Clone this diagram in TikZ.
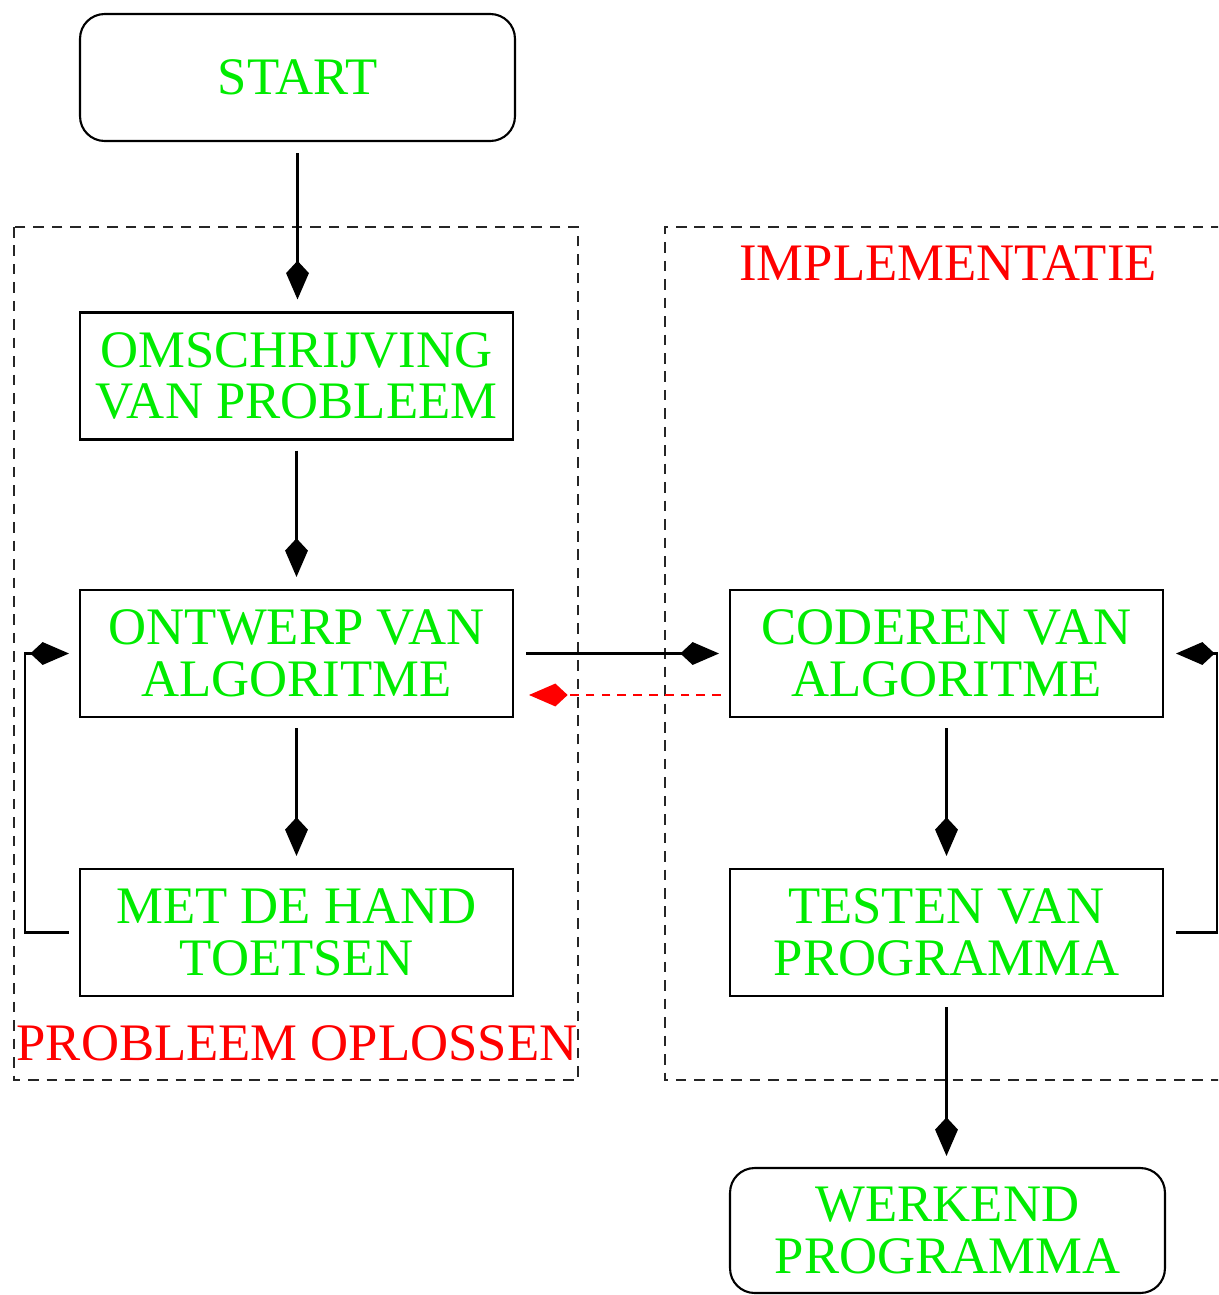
\documentclass[tikz,border=0pt]{standalone}
\usepackage{fontspec}
\setmainfont{Liberation Serif}
\usetikzlibrary{arrows.meta}
\definecolor{lgreen}{RGB}{0,235,0}
\definecolor{dred}{RGB}{255,0,0}
\begin{document}
\begin{tikzpicture}[x=0.02cm,y=-0.02cm,
  box/.style={draw, line width=1.2pt, minimum width=8.66cm, minimum height=2.54cm,
    inner sep=0pt, align=center, text=lgreen, font=\fontsize{30}{29.5}\selectfont},
  term/.style={box, rounded corners=14pt, minimum width=8.7cm},
  tipk/.tip={Kite[length=22pt,width=13pt,inset=7pt]},
  arr/.style={line width=1.2pt, -tipk},
  grp/.style={dash pattern=on 6pt off 4.5pt, line width=1.1pt, draw=black!85},
  lbl/.style={text=dred, inner sep=0pt, font=\fontsize{30}{29.5}\selectfont}]
\useasboundingbox (0,0) rectangle (1218,1295);
\clip (0,0) rectangle (1218,1295);

% group frames
\draw[grp] (14,227) rectangle (578,1080);
\draw[grp] (1240,227) -- (665,227) -- (665,1080) -- (1240,1080);
\node[lbl] (impl) at (948,263) {IMPLEMENTATIE};
\node[lbl] (opl) at (297,1043) {PROBLEEM OPLOSSEN};

% nodes
\node[term] (start) at (297.5,77.5) {START};
\node[box] (omschr) at (296.5,376) {OMSCHRIJVING\\VAN PROBLEEM};
\node[box] (ontwerp) at (296.5,653.5) {ONTWERP VAN\\ALGORITME};
\node[box] (met) at (296.5,932.5) {MET DE HAND\\TOETSEN};
\node[box] (coderen) at (946.5,653.5) {CODEREN VAN\\ALGORITME};
\node[box] (testen) at (946.5,932.5) {TESTEN VAN\\PROGRAMMA};
\node[term, minimum height=2.5cm] (werkend) at (947.5,1230.5) {WERKEND\\PROGRAMMA};

% connectors
\draw[arr, shorten <=0.22cm, shorten >=0.24cm] (start.south) -- (start.south |- omschr.north);
\draw[arr, shorten <=0.2cm, shorten >=0.24cm] (omschr.south) -- (ontwerp.north);
\draw[arr, shorten <=0.2cm, shorten >=0.24cm] (ontwerp.south) -- (met.north);
\draw[arr, shorten <=0.2cm, shorten >=0.24cm] (coderen.south) -- (testen.north);
\draw[arr, shorten <=0.2cm, shorten >=0.22cm] (testen.south) -- (testen.south |- werkend.north);
\draw[arr, shorten <=0.24cm, shorten >=0.2cm] (ontwerp.east) -- (coderen.west);
\draw[red, line width=1.1pt, dash pattern=on 5pt off 4pt, -tipk, shorten <=0.16cm, shorten >=0.3cm]
  ([yshift=-0.83cm]coderen.west) -- ([yshift=-0.83cm]ontwerp.east);
\draw[arr] ([xshift=-0.2cm]met.west) -- ++(-0.88cm,0) |- ([xshift=-0.2cm]ontwerp.west);
\draw[arr] ([xshift=0.24cm]testen.east) -- ++(0.82cm,0) |- ([xshift=0.24cm]coderen.east);
\end{tikzpicture}
\end{document}
